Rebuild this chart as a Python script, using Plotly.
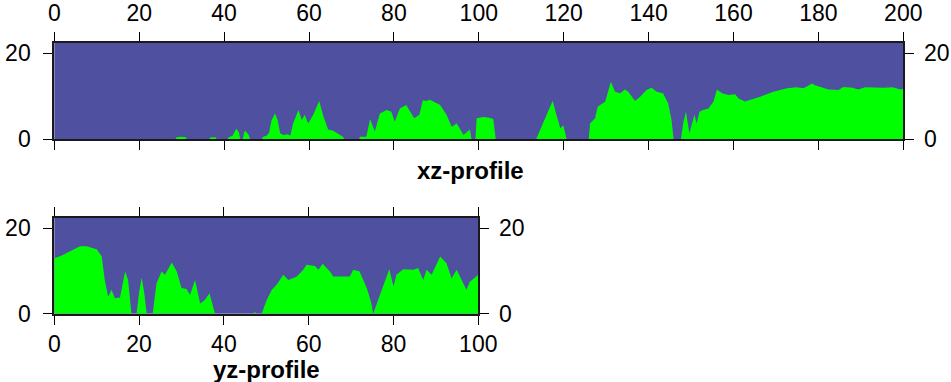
import plotly.graph_objects as go

# Profile along x (distance, height)
xz_dist = [0, 28.6, 28.8, 30, 31, 31.2, 36.5, 36.7, 38, 38.3, 40.8, 41, 42, 42.9, 43.5, 43.8,
           44.4, 44.7, 45, 45.8, 46.1,
           48.8, 49.2, 50, 50.6, 51.2, 52, 52.6, 53.2, 54, 55, 55.6, 56.2, 57.5, 58.3, 59, 59.8,
           61, 62.4, 63.4, 64.5, 65.7, 67, 68, 68.4,
           71.8, 72, 73.5, 74.4, 75.5, 76.7, 78.3, 79.4, 80.2, 81.4, 82.9, 83.6, 84.8, 86, 86.8,
           87.6, 88.5, 89.3, 90.9, 92.4, 93.6, 94.8, 96.4, 97.9, 98.3,
           99.2, 99.5, 101, 102.5, 103.4, 104,
           113.5, 115, 116.5, 117.4, 118.2, 119.2, 119.9, 120.7,
           125.9, 126.2, 127.4, 128, 129.8, 130.5, 131.1, 132.1, 133.3, 134.4, 135.2, 136.8, 138,
           139.5, 140.7, 141.9, 143.4, 144.6, 145.4, 145.9,
           147.6, 148.2, 148.8, 149.6, 150, 150.8, 151.3, 152, 152.8, 154.1, 155.3, 156.1, 157.3,
           158.8, 160.4, 161.2, 162.7, 164.7, 166.3, 168.6, 169.4, 172.6, 174.9, 176.5, 178.5,
           179.2, 180.8, 182.4, 184.7, 185.9, 188, 189.4, 191, 193, 195.4, 197.5, 199.3, 200]
xz_height = [0, 0, 0.5, 0.6, 0.5, 0, 0, 0.4, 0.5, 0, 0, 0.4, 0.8, 2.5, 1.5, 0,
             0, 1.5, 2.0, 1.0, 0,
             0, 0.6, 0.8, 1.5, 4.5, 6.0, 4.5, 1.4, 1.0, 1.2, 0.8, 3.5, 6.8, 4.5, 5.7, 3.7,
             5.7, 8.9, 5.3, 2.3, 2.0, 1.2, 0.6, 0,
             0, 0.6, 0.6, 4.7, 1.8, 6.0, 6.8, 6.4, 4.1, 7.2, 8.0, 6.8, 4.9, 5.7, 9.1,
             8.9, 9.2, 8.8, 8.0, 5.7, 2.9, 3.7, 1.0, 2.3, 0,
             0, 4.9, 5.2, 5.0, 4.7, 0,
             0, 3.5, 7.0, 9.0, 6.0, 2.6, 3.3, 0,
             0, 3.7, 4.9, 7.6, 8.8, 11.0, 13.4, 11.1, 10.7, 11.6, 11.1, 8.9, 9.9,
             11.5, 12.0, 11.1, 10.7, 8.4, 4.5, 0,
             0, 4.0, 6.4, 1.4, 3.0, 5.7, 3.7, 6.4, 6.8, 7.2, 8.8, 11.6, 10.7,
             10.3, 10.5, 9.5, 8.8, 9.4, 9.9, 10.8, 11.1, 11.9, 12.1, 11.9, 13.0,
             12.6, 12.1, 11.6, 11.5, 12.2, 12.0, 11.6, 12.1, 12.0, 12.0, 12.1, 11.6, 11.8]

# Profile along y (distance, height)
yz_dist = [0, 1.5, 2.9, 4.5, 6.1, 7.6, 8.8, 10, 11.2, 11.9, 12.7, 13.5, 14.3, 15.5, 16.7, 17.4,
           18.2, 19.4, 20, 20.6, 21.2, 21.8, 23.2, 24.1, 25.3, 26.1, 27.7, 28.9, 30, 31.2, 32,
           33.2, 34.4, 35.5, 36.6, 37.9, 47, 47.3, 47.6, 48.9, 50.1, 51.3, 52.4, 54, 55.2, 57.2,
           58.7, 59.5, 61.5, 62.3, 63.3, 65, 65.8, 69.7, 70.5, 72, 73.7, 74.8, 75.2, 76.4, 78,
           79, 80, 80.7, 82.3, 84.7, 85.8, 87, 87.8, 89, 91, 92.5, 93.7, 94.9, 97.2, 98, 100]
yz_height = [13.0, 13.5, 14.2, 15.0, 15.8, 15.8, 15.4, 15.1, 13.4, 7.9, 4.0, 5.6, 3.6, 3.8, 9.9, 7.9,
             0, 0, 5.0, 8.5, 5.0, 0, 0, 7.1, 9.9, 9.1, 12.0, 9.9, 6.0, 5.8, 4.4,
             7.9, 2.4, 3.2, 4.8, 0, 0, 0.5, 0, 0, 3.2, 5.6, 6.7, 9.1, 7.9, 8.7,
             10.3, 11.5, 11.2, 10.3, 11.7, 9.9, 8.7, 8.7, 10.3, 9.9, 6.0, 2.4, 0, 3.2, 7.5,
             10.4, 6.4, 9.1, 10.4, 10.3, 10.7, 7.9, 10.3, 9.1, 13.4, 11.8, 8.3, 10.3, 5.6, 7.5, 9.1]

height_ticks = [0, 20]
xz_ticks = [0, 20, 40, 60, 80, 100, 120, 140, 160, 180, 200]
yz_ticks = [0, 20, 40, 60, 80, 100]

W, H = 951, 382
SKY = "rgb(80,80,160)"
GROUND = "rgb(0,255,0)"
FONT = "Liberation Sans, Arial, Helvetica, sans-serif"

fig = go.Figure()
fig.add_trace(go.Scatter(x=xz_dist, y=xz_height, mode="lines", fill="tozeroy",
                         fillcolor=GROUND, line=dict(width=0, color=GROUND),
                         xaxis="x", yaxis="y", hoverinfo="skip"))
fig.add_trace(go.Scatter(x=yz_dist, y=yz_height, mode="lines", fill="tozeroy",
                         fillcolor=GROUND, line=dict(width=0, color=GROUND),
                         xaxis="x2", yaxis="y2", hoverinfo="skip"))
# empty traces so the right-hand height axes get drawn
fig.add_trace(go.Scatter(x=[None], y=[None], mode="lines", xaxis="x", yaxis="y3", hoverinfo="skip"))
fig.add_trace(go.Scatter(x=[None], y=[None], mode="lines", xaxis="x2", yaxis="y4", hoverinfo="skip"))

def px_x(a, b):
    return [a / W, b / W]

def px_y(top, bottom):
    return [1 - bottom / H, 1 - top / H]

tickfont = dict(family=FONT, size=23, color="black")
axis_common = dict(showgrid=False, zeroline=False, showline=True, linecolor="#1a1a1a",
                   linewidth=2, ticks="outside", ticklen=9, tickwidth=1, tickcolor="black",
                   tickfont=tickfont, fixedrange=True, automargin=False)

zmax = 22.5
fig.update_layout(
    width=W, height=H, margin=dict(l=0, r=0, t=0, b=0, autoexpand=False),
    paper_bgcolor="white", plot_bgcolor=SKY, showlegend=False,
    xaxis=dict(domain=px_x(54.3, 903.3), range=[0, 200], anchor="y", side="top",
               mirror="ticks", tickvals=xz_ticks, ticklabelstandoff=2, **axis_common),
    yaxis=dict(domain=px_y(42.7, 139.3), range=[0, zmax], anchor="x", side="left",
               mirror=True, tickvals=height_ticks, ticklabelstandoff=8, **axis_common),
    yaxis3=dict(range=[0, zmax], anchor="x", overlaying="y", side="right",
                tickvals=height_ticks, ticklabelstandoff=5, **axis_common),
    xaxis2=dict(domain=px_x(54.3, 478.3), range=[0, 100], anchor="y2", side="bottom",
                mirror="ticks", tickvals=yz_ticks, **axis_common),
    yaxis2=dict(domain=px_y(217.7, 313.7), range=[0, zmax], anchor="x2", side="left",
                mirror=True, tickvals=height_ticks, ticklabelstandoff=8, **axis_common),
    yaxis4=dict(range=[0, zmax], anchor="x2", overlaying="y2", side="right",
                tickvals=height_ticks, ticklabelstandoff=5, **axis_common),
)

title_font = dict(family=FONT, size=24, color="black")
fig.add_annotation(text="<b>xz-profile</b>", x=470 / W, y=1 - 170 / H, xref="paper", yref="paper",
                   showarrow=False, font=title_font, xanchor="center", yanchor="middle")
fig.add_annotation(text="<b>yz-profile</b>", x=266 / W, y=1 - 369 / H, xref="paper", yref="paper",
                   showarrow=False, font=title_font, xanchor="center", yanchor="middle")

fig.write_html("out.html", config={"displayModeBar": False})
